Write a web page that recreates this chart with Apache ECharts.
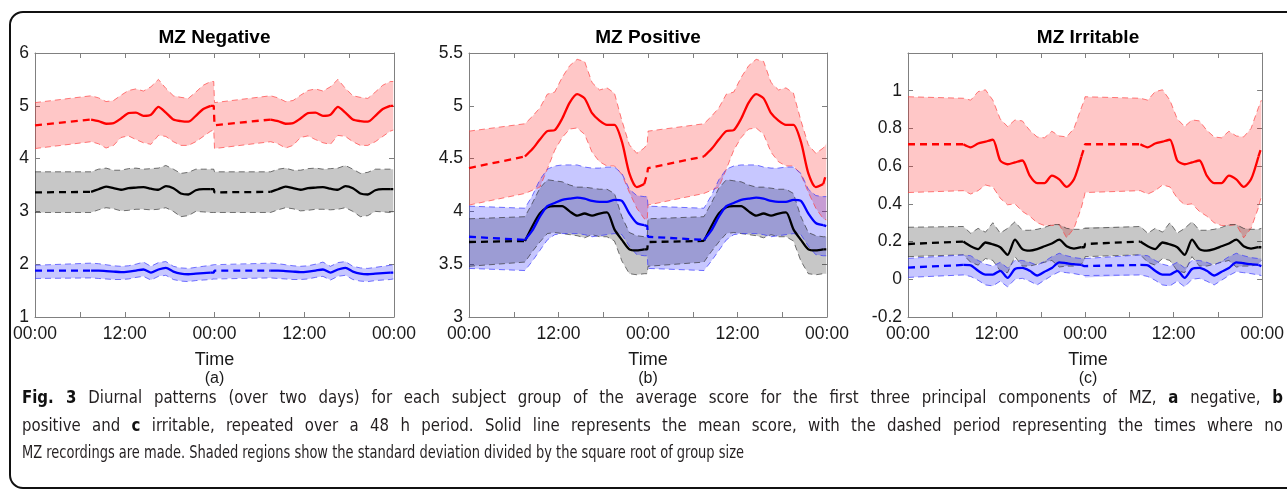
<!DOCTYPE html>
<html>
<head>
<meta charset="utf-8">
<script src="https://cdn.jsdelivr.net/npm/echarts/dist/echarts.min.js"></script>
<style>
  html, body { margin: 0; padding: 0; background: #fff; }
  body { width: 1287px; height: 495px; position: relative; overflow: hidden; }
  #frame { position: absolute; left: 9px; top: 11px; width: 1320px; height: 478px;
           border: 2px solid #111; border-radius: 14px; box-sizing: border-box; }
  #chart { position: absolute; left: 0; top: 0; width: 1287px; height: 495px; }
  .cap { position: absolute; left: 22px; font-family: 'Liberation Sans Narrow', 'DejaVu Sans Condensed', 'Liberation Sans', sans-serif;
         font-size: 17px; color: #231f20; white-space: nowrap; transform-origin: 0 50%; line-height: 20px; display: inline-block; }
  .cap b { color: #111; }
</style>
</head>
<body>
<div id="frame"></div>
<div id="chart"></div>
<div class="cap" data-w="1261" style="top:387px"><b>Fig. 3</b> Diurnal patterns (over two days) for each subject group of the average score for the first three principal components of MZ, <b>a</b> negative, <b>b</b></div>
<div class="cap" data-w="1261" style="top:415px">positive and <b>c</b> irritable, repeated over a 48 h period. Solid line represents the mean score, with the dashed period representing the times where no</div>
<div class="cap" data-w="722" style="top:442px">MZ recordings are made. Shaded regions show the standard deviation divided by the square root of group size</div>
<script>
// ---- time grid (hours of one day; the figure repeats the day twice) ----
const HOURS = [0, 7.5, 8.5, 9.5, 10.5, 11.5, 12.5, 13.5, 14.5, 15.5, 16.5, 17.5, 18.5, 19.5, 20.5, 21.5, 22.5, 23.5, 23.9];
const REC_START = 7.5, REC_END = 23.5;
const X_LABELS = { 0: '00:00', 12: '12:00', 24: '00:00', 36: '12:00', 48: '00:00' };

// ---- (a) MZ Negative ----
const negRedMean = [4.63,4.74,4.71,4.66,4.67,4.76,4.86,4.87,4.81,4.83,4.98,4.87,4.74,4.71,4.70,4.81,4.94,5.00,5.00];
const negRedUp   = [5.06,5.19,5.15,5.08,5.10,5.20,5.29,5.32,5.28,5.36,5.50,5.33,5.19,5.16,5.14,5.26,5.39,5.46,5.46];
const negRedLo   = [4.19,4.32,4.28,4.20,4.25,4.40,4.43,4.36,4.30,4.27,4.44,4.42,4.32,4.25,4.25,4.32,4.42,4.52,4.54];
const negBlkMean = [3.36,3.37,3.42,3.47,3.44,3.41,3.44,3.45,3.46,3.43,3.41,3.48,3.44,3.34,3.32,3.40,3.42,3.42,3.42];
const negBlkUp   = [3.75,3.75,3.80,3.82,3.78,3.78,3.81,3.82,3.80,3.81,3.82,3.87,3.80,3.72,3.74,3.80,3.80,3.80,3.80];
const negBlkLo   = [2.98,2.98,3.03,3.07,3.05,3.01,3.02,3.04,3.04,3.03,3.04,3.07,3.00,2.90,2.92,3.00,2.99,2.98,2.98];
const negBluMean = [1.88,1.88,1.88,1.87,1.86,1.85,1.86,1.88,1.90,1.84,1.90,1.93,1.86,1.82,1.81,1.82,1.83,1.84,1.84];
const negBluUp   = [1.98,2.02,2.01,1.99,1.97,1.96,1.97,2.00,2.04,1.96,2.03,2.05,1.96,1.93,1.92,1.94,1.96,1.98,1.99];
const negBluLo   = [1.73,1.74,1.73,1.72,1.71,1.71,1.72,1.75,1.77,1.70,1.77,1.79,1.71,1.68,1.67,1.69,1.70,1.71,1.72];

// ---- (b) MZ Positive ----
const posRedMean = [4.41,4.52,4.59,4.68,4.76,4.77,4.88,5.03,5.11,5.07,4.93,4.86,4.82,4.82,4.66,4.36,4.23,4.26,4.36];
const posRedUp   = [4.76,4.83,4.90,4.98,5.11,5.13,5.27,5.38,5.44,5.42,5.22,5.15,5.17,5.12,4.86,4.63,4.55,4.60,4.64];
const posRedLo   = [4.06,4.17,4.20,4.23,4.40,4.58,4.70,4.78,4.79,4.73,4.56,4.47,4.43,4.43,4.35,4.18,4.03,3.93,3.92];
const posBlkMean = [3.71,3.72,3.86,3.98,4.04,4.05,4.05,4.00,3.96,3.98,3.96,3.98,3.99,3.83,3.73,3.64,3.63,3.64,3.64];
const posBlkUp   = [3.93,3.95,4.08,4.22,4.30,4.29,4.28,4.25,4.23,4.23,4.22,4.21,4.21,4.17,3.95,3.80,3.77,3.76,3.76];
const posBlkLo   = [3.48,3.52,3.62,3.71,3.79,3.80,3.79,3.78,3.77,3.75,3.78,3.76,3.76,3.72,3.53,3.41,3.40,3.41,3.41];
const posBluMean = [3.76,3.73,3.82,3.95,4.05,4.08,4.11,4.12,4.13,4.12,4.10,4.09,4.09,4.11,4.10,3.98,3.89,3.87,3.86];
const posBluUp   = [4.05,4.03,4.15,4.30,4.40,4.43,4.44,4.44,4.44,4.42,4.41,4.41,4.42,4.42,4.36,4.21,4.15,4.14,4.14];
const posBluLo   = [3.46,3.44,3.53,3.63,3.73,3.78,3.79,3.79,3.79,3.78,3.76,3.77,3.78,3.79,3.78,3.67,3.59,3.58,3.58];

// ---- (c) MZ Irritable ----
const irrRedMean = [0.716,0.716,0.70,0.72,0.73,0.74,0.63,0.61,0.62,0.63,0.55,0.51,0.51,0.55,0.53,0.49,0.53,0.65,0.70];
const irrRedUp   = [0.968,0.96,0.95,0.995,1.005,0.95,0.85,0.81,0.845,0.84,0.79,0.755,0.75,0.785,0.76,0.755,0.80,0.91,0.95];
const irrRedLo   = [0.46,0.47,0.452,0.47,0.50,0.49,0.43,0.395,0.40,0.36,0.335,0.30,0.285,0.285,0.29,0.22,0.27,0.38,0.44];
const irrBlkMean = [0.187,0.20,0.175,0.16,0.195,0.185,0.17,0.13,0.21,0.16,0.152,0.16,0.175,0.19,0.21,0.175,0.163,0.17,0.17];
const irrBlkUp   = [0.276,0.28,0.244,0.27,0.25,0.30,0.245,0.27,0.305,0.26,0.26,0.265,0.275,0.29,0.29,0.27,0.265,0.265,0.27];
const irrBlkLo   = [0.12,0.13,0.09,0.075,0.11,0.10,0.045,0.035,0.12,0.07,0.07,0.08,0.09,0.10,0.065,0.07,0.07,0.08,0.10];
const irrBluMean = [0.062,0.076,0.074,0.045,0.025,0.025,0.045,0.008,0.055,0.06,0.045,0.02,0.04,0.06,0.09,0.085,0.08,0.076,0.07];
const irrBluUp   = [0.111,0.129,0.125,0.10,0.08,0.07,0.09,0.06,0.10,0.10,0.09,0.075,0.095,0.12,0.138,0.125,0.115,0.11,0.11];
const irrBluLo   = [0.01,0.023,0.015,-0.005,-0.03,-0.035,-0.01,-0.04,0.0,0.005,-0.01,-0.03,-0.005,0.02,0.04,0.035,0.03,0.023,0.02];

const PANELS = [
  { title: 'MZ Negative', sub: '(a)', yMin: 1, yMax: 6, yInt: 1, left: 35, width: 359,
    groups: [ { c: 'red', mean: negRedMean, up: negRedUp, lo: negRedLo },
              { c: 'black', mean: negBlkMean, up: negBlkUp, lo: negBlkLo },
              { c: 'blue', mean: negBluMean, up: negBluUp, lo: negBluLo } ] },
  { title: 'MZ Positive', sub: '(b)', yMin: 3, yMax: 5.5, yInt: 0.5, left: 469, width: 358,
    groups: [ { c: 'red', mean: posRedMean, up: posRedUp, lo: posRedLo },
              { c: 'black', mean: posBlkMean, up: posBlkUp, lo: posBlkLo },
              { c: 'blue', mean: posBluMean, up: posBluUp, lo: posBluLo } ] },
  { title: 'MZ Irritable', sub: '(c)', yMin: -0.2, yMax: 1.2, yInt: 0.2, left: 908, width: 360, hideTop: true,
    groups: [ { c: 'red', mean: irrRedMean, up: irrRedUp, lo: irrRedLo },
              { c: 'black', mean: irrBlkMean, up: irrBlkUp, lo: irrBlkLo },
              { c: 'blue', mean: irrBluMean, up: irrBluUp, lo: irrBluLo } ] }
];

const STYLE = {
  red:   { line: '#ff0000', edge: 'rgba(255,60,60,0.75)', fill: 'rgba(255,0,0,0.22)' },
  black: { line: '#000000', edge: 'rgba(40,40,40,0.7)', fill: 'rgba(0,0,0,0.22)' },
  blue:  { line: '#0000ff', edge: 'rgba(50,50,255,0.75)', fill: 'rgba(0,0,255,0.22)' }
};

const GRID_TOP = 53, GRID_H = 264;
const AXIS_COLOR = '#808080';
const FONT = "'Liberation Sans', Arial, Helvetica, sans-serif";

// two repeated days of pairs [hour, value]; mask blanks points outside it
function twoDays(arr, keep) {
  const out = [];
  for (let d = 0; d < 2; d++) {
    HOURS.forEach((h, i) => {
      out.push([h + 24 * d, (keep && !keep(h)) ? '-' : arr[i]]);
    });
  }
  return out;
}
const isRec = h => h >= REC_START && h <= REC_END;
const isNight = h => h <= REC_START || h >= REC_END;

// shaded band between lo and up, drawn as one polygon through the axis scales
function bandSeries(xi, yi, lo, up, fill, z) {
  const loD = twoDays(lo), upD = twoDays(up);
  const pts = loD.map((p, i) => [p[0], p[1], upD[i][1]]);
  return {
    type: 'custom', xAxisIndex: xi, yAxisIndex: yi, silent: true, animation: false, z: z,
    data: pts, encode: { x: 0, y: [1, 2] }, clip: true,
    renderItem: function (params, api) {
      if (params.dataIndex !== 0) return null;
      const top = pts.map(d => api.coord([d[0], d[2]]));
      const bot = pts.map(d => api.coord([d[0], d[1]])).reverse();
      return { type: 'polygon', silent: true, shape: { points: top.concat(bot) }, style: { fill: fill, stroke: null } };
    }
  };
}

const grids = [], xAxes = [], yAxes = [], series = [], graphics = [];

PANELS.forEach((p, pi) => {
  grids.push({ left: p.left, top: GRID_TOP, width: p.width, height: GRID_H, show: false });
  const axLine = { show: true, onZero: false, lineStyle: { color: AXIS_COLOR, width: 1 } };
  const axTick = { show: true, inside: true, length: 5, lineStyle: { color: AXIS_COLOR, width: 1 } };
  xAxes.push({
    gridIndex: pi, type: 'value', min: 0, max: 48, interval: 6, position: 'bottom',
    axisLine: axLine, axisTick: axTick, splitLine: { show: false },
    axisLabel: { show: true, margin: 8, fontSize: 17.5, color: '#1a1a1a', fontFamily: FONT,
                 showMinLabel: true, showMaxLabel: true, hideOverlap: false,
                 formatter: v => X_LABELS[Math.round(v)] || '' }
  });
  xAxes.push({
    gridIndex: pi, type: 'value', min: 0, max: 48, interval: 6, position: 'top',
    axisLine: axLine, axisTick: axTick, splitLine: { show: false }, axisLabel: { show: false }
  });
  yAxes.push({
    gridIndex: pi, type: 'value', min: p.yMin, max: p.yMax, interval: p.yInt, position: 'left',
    axisLine: axLine, axisTick: axTick, splitLine: { show: false },
    axisLabel: { show: true, margin: 6, fontSize: 17.5, color: '#1a1a1a', fontFamily: FONT,
                 showMinLabel: true, showMaxLabel: true, hideOverlap: false,
                 formatter: v => { const r = Math.round(v * 10) / 10; if (p.hideTop && r > 1.1) return ''; return String(r); } }
  });
  yAxes.push({
    gridIndex: pi, type: 'value', min: p.yMin, max: p.yMax, interval: p.yInt, position: 'right',
    axisLine: axLine, axisTick: axTick, splitLine: { show: false }, axisLabel: { show: false }
  });
  const xi = pi * 2, yi = pi * 2;
  // shaded bands + dashed band edges
  p.groups.forEach((g, gi) => {
    const st = STYLE[g.c];
    series.push(bandSeries(xi, yi, g.lo, g.up, st.fill, 2 + gi * 0.1));
    [g.lo, g.up].forEach(edge => {
      series.push({ type: 'line', xAxisIndex: xi, yAxisIndex: yi, symbol: 'none', showSymbol: false,
                    silent: true, animation: false, z: 3 + gi * 0.1, data: twoDays(edge),
                    lineStyle: { color: st.edge, width: 0.9, type: [6, 4] } });
    });
  });
  // mean lines: solid while recording, dashed otherwise
  p.groups.forEach((g, gi) => {
    const st = STYLE[g.c];
    const common = { type: 'line', xAxisIndex: xi, yAxisIndex: yi, symbol: 'none', showSymbol: false,
                     silent: true, animation: false, connectNulls: false, z: 5 + gi * 0.1 };
    series.push(Object.assign({}, common, {
      data: twoDays(g.mean, isRec), smooth: 0.25, lineStyle: { color: st.line, width: 2.3 }
    }));
    series.push(Object.assign({}, common, {
      data: twoDays(g.mean, isNight), lineStyle: { color: st.line, width: 2.3, type: [7, 5] }
    }));
  });
  const cx = p.left + p.width / 2;
  graphics.push({ type: 'text', x: cx, y: 38, style: { text: p.title, fontSize: 19, fontWeight: 'bold',
                  fontFamily: FONT, fill: '#000', textAlign: 'center', textVerticalAlign: 'middle' } });
  graphics.push({ type: 'text', x: cx, y: 360, style: { text: 'Time', fontSize: 18,
                  fontFamily: FONT, fill: '#1a1a1a', textAlign: 'center', textVerticalAlign: 'middle' } });
  graphics.push({ type: 'text', x: cx, y: 379, style: { text: p.sub, fontSize: 16,
                  fontFamily: FONT, fill: '#1a1a1a', textAlign: 'center', textVerticalAlign: 'middle' } });
});

const chart = echarts.init(document.getElementById('chart'), null, { renderer: 'canvas' });
chart.setOption({
  animation: false,
  backgroundColor: 'transparent',
  grid: grids, xAxis: xAxes, yAxis: yAxes, series: series, graphic: graphics
});

// condense the caption (last line sets the scale); the first two lines are justified
function fitCaption() {
  const els = Array.prototype.slice.call(document.querySelectorAll('.cap'));
  els.forEach(el => { el.style.transform = 'none'; el.style.wordSpacing = '0px'; });
  const last = els[els.length - 1];
  const f = (+last.dataset.w) / last.getBoundingClientRect().width;
  els.forEach((el, i) => {
    let s = f;
    if (i < els.length - 1) {
      const target = +el.dataset.w;
      const w = el.getBoundingClientRect().width;
      const spaces = (el.textContent.match(/ /g) || []).length;
      s = f * 1.15;
      let extra = (target / s - w) / spaces;
      if (extra < 0) { s = target / w; extra = 0; }
      el.style.wordSpacing = extra + 'px';
    }
    el.style.transform = 'scaleX(' + s + ')';
  });
}
fitCaption();
if (document.fonts && document.fonts.ready) document.fonts.ready.then(fitCaption);
</script>
</body>
</html>
